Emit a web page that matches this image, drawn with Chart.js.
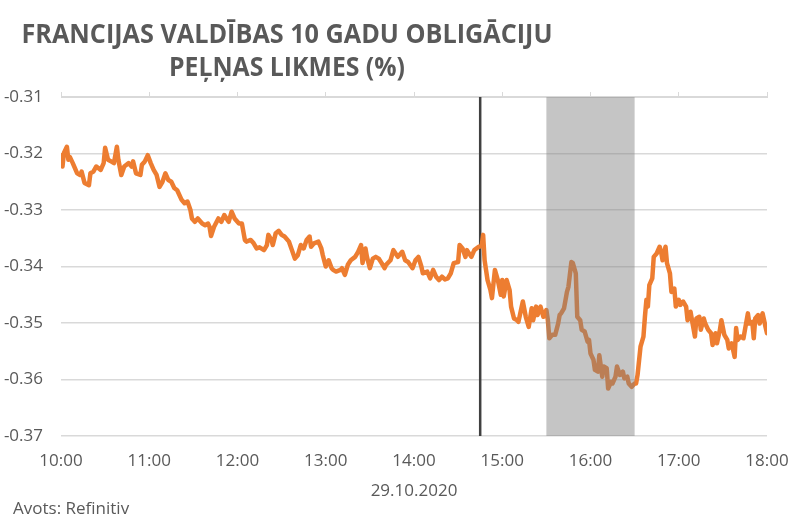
<!DOCTYPE html>
<html>
<head>
<meta charset="utf-8">
<script src="https://cdn.jsdelivr.net/npm/chart.js@4.4.1/dist/chart.umd.min.js"></script>
<style>
  html, body { margin: 0; padding: 0; background: #ffffff; }
  #wrap { width: 800px; height: 520px; position: relative; }
</style>
</head>
<body>
<div id="wrap"><canvas id="c" width="800" height="520"></canvas></div>
<script>
// ---- Data (minutes after 10:00, yield %) ----
const titleLines = ['FRANCIJAS VALDĪBAS 10 GADU OBLIGĀCIJU', 'PEĻŅAS LIKMES (%)'];
const dateLabel = '29.10.2020';
const sourceLabel = 'Avots: Refinitiv';
const tickLabels = ['10:00','11:00','12:00','13:00','14:00','15:00','16:00','17:00','18:00'];
const eventMinute = 285;      // 14:45 vertical marker
const bandStart = 330;        // 15:30
const bandEnd = 390;          // 16:30

const minutes = [
  0,1,2,4,5,6,8,11,13,14,16,19,20,22,24,27,29,30,32,34,36,38,39,41,43,46,48,49,51,54,55,57,59,
  61,63,65,67,69,71,73,75,77,79,82,84,86,88,89,91,93,96,98,100,101,102,104,107,109,111,114,116,
  118,121,123,125,126,129,131,133,135,138,140,141,143,144,146,148,150,152,155,157,159,161,163,165,
  167,169,170,172,175,177,178,180,182,184,185,187,190,191,193,195,197,200,202,204,205,207,208,210,
  212,214,216,218,220,221,224,226,229,232,234,236,239,241,243,245,246,249,251,253,255,257,259,261,
  263,265,267,270,271,273,275,276,279,281,284,286,287,288,290,292,293,295,297,299,300,301,303,305,
  306,308,310,311,313,314,316,318,320,321,323,324,326,328,330,331,332,334,336,338,339,340,342,344,
  345,347,348,350,351,353,354,356,358,359,360,362,363,365,366,368,369,371,372,374,375,377,378,380,
  382,383,385,386,388,390,391,392,394,395,396,397,398,399,400,402,403,405,407,408,409,411,412,414,
  415,417,418,420,421,423,425,426,428,429,431,432,434,435,437,438,440,442,443,445,446,448,449,451,
  453,454,456,458,459,460,462,464,465,467,468,470,471,472,474,475,477,479,480
];
const yieldValues = [
  -0.3203,-0.3223,-0.3199,-0.3188,-0.3211,-0.3206,-0.3217,-0.3235,-0.3238,-0.3232,-0.3252,-0.3256,-0.3235,-0.3232,-0.3223,-0.3229,-0.3217,-0.3190,-0.3211,-0.3214,-0.3217,-0.3188,-0.3211,-0.3238,-0.3223,-0.3217,-0.3223,-0.3214,-0.3235,-0.3238,-0.3220,-0.3214,-0.3203,
  -0.3217,-0.3229,-0.3238,-0.3259,-0.3250,-0.3235,-0.3247,-0.3250,-0.3261,-0.3265,-0.3282,-0.3288,-0.3285,-0.3300,-0.3315,-0.3321,-0.3315,-0.3324,-0.3327,-0.3324,-0.3330,-0.3346,-0.3330,-0.3315,-0.3321,-0.3309,-0.3321,-0.3303,
  -0.3315,-0.3324,-0.3324,-0.3353,-0.3356,-0.3353,-0.3359,-0.3368,-0.3366,-0.3371,-0.3362,-0.3344,-0.3353,-0.3362,-0.3341,-0.3337,-0.3344,-0.3347,-0.3356,-0.3371,-0.3386,-0.3380,-0.3362,-0.3368,
  -0.3353,-0.3347,-0.3365,-0.3359,-0.3356,-0.3368,-0.3380,-0.3400,-0.3389,-0.3403,-0.3406,-0.3409,-0.3406,-0.3403,-0.3415,-0.3397,-0.3389,-0.3383,-0.3374,-0.3362,-0.3394,-0.3368,-0.3383,-0.3403,
  -0.3386,-0.3383,-0.3386,-0.3394,-0.3403,-0.3397,-0.3389,-0.3371,-0.3383,-0.3374,-0.3389,-0.3392,-0.3403,-0.3389,-0.3383,-0.3400,-0.3412,-0.3409,-0.3421,-0.3406,-0.3418,-0.3424,-0.3418,-0.3423,
  -0.3421,-0.3412,-0.3394,-0.3392,-0.3362,-0.3368,-0.3383,-0.3371,-0.3383,-0.3371,-0.3365,-0.3364,-0.3344,-0.3389,-0.3424,-0.3442,-0.3456,-0.3406,-0.3424,-0.3450,-0.3424,-0.3453,-0.3424,-0.3442,
  -0.3471,-0.3492,-0.3495,-0.3498,-0.3474,-0.3462,-0.3489,-0.3507,-0.3474,-0.3495,-0.3471,-0.3486,-0.3471,-0.3489,-0.3477,-0.3495,-0.3527,-0.3521,-0.3521,-0.3501,-0.3486,-0.3483,-0.3474,-0.3445,
  -0.3436,-0.3392,-0.3394,-0.3412,-0.3489,-0.3495,-0.3512,-0.3515,-0.3533,-0.3530,-0.3554,-0.3565,-0.3583,-0.3586,-0.3557,-0.3595,-0.3577,-0.3580,-0.3616,-0.3604,-0.3607,-0.3595,-0.3577,-0.3592,
  -0.3586,-0.3598,-0.3595,-0.3607,-0.3613,-0.3607,-0.3607,-0.3592,-0.3542,-0.3533,-0.3524,-0.3489,-0.3459,-0.3471,-0.3433,-0.3421,-0.3383,-0.3377,-0.3365,-0.3374,-0.3389,-0.3365,-0.3394,-0.3412,
  -0.3445,-0.3439,-0.3471,-0.3459,-0.3468,-0.3462,-0.3471,-0.3495,-0.3480,-0.3495,-0.3524,-0.3492,-0.3489,-0.3512,-0.3492,-0.3501,-0.3512,-0.3518,-0.3539,-0.3518,-0.3536,-0.3512,-0.3495,-0.3521,
  -0.3530,-0.3545,-0.3536,-0.3560,-0.3509,-0.3530,-0.3524,-0.3527,-0.3512,-0.3483,-0.3501,-0.3498,-0.3527,-0.3492,-0.3486,-0.3501,-0.3483,-0.3507,-0.3518
];

// ---- Chart ----
const TEXT = '#595959';
const GRID = '#d9d9d9';
Chart.defaults.font.family = '"Open Sans", sans-serif';
Chart.defaults.color = TEXT;

const points = minutes.map((m, i) => ({ x: m, y: yieldValues[i] }));

const overlay = {
  id: 'overlay',
  beforeDatasetsDraw(chart) {
    const { ctx, chartArea, scales } = chart;
    const x = scales.x.getPixelForValue(eventMinute);
    ctx.save();
    ctx.strokeStyle = '#404040';
    ctx.lineWidth = 2.5;
    ctx.beginPath();
    ctx.moveTo(x, chartArea.top);
    ctx.lineTo(x, chartArea.bottom);
    ctx.stroke();
    ctx.restore();
  },
  afterDatasetsDraw(chart) {
    const { ctx, chartArea, scales } = chart;
    const x0 = scales.x.getPixelForValue(bandStart);
    const x1 = scales.x.getPixelForValue(bandEnd);
    ctx.save();
    ctx.fillStyle = 'rgba(128,128,128,0.46)';
    ctx.fillRect(x0, chartArea.top, x1 - x0, chartArea.bottom - chartArea.top);
    ctx.restore();
  },
  afterDraw(chart) {
    const { ctx } = chart;
    ctx.save();
    ctx.fillStyle = TEXT;
    ctx.textAlign = 'center';
    ctx.textBaseline = 'alphabetic';
    ctx.font = 'bold 26px "Open Sans", sans-serif';
    ctx.fillText(titleLines[0], 287, 43, 531);
    ctx.fillText(titleLines[1], 287, 76, 236);
    ctx.textAlign = 'left';
    ctx.font = '17px "Open Sans", sans-serif';
    ctx.fillText(sourceLabel, 13, 514);
    ctx.restore();
  }
};

new Chart(document.getElementById('c'), {
  type: 'line',
  data: {
    datasets: [{
      data: points,
      borderColor: '#ED7D31',
      borderWidth: 4.5,
      borderJoinStyle: 'round',
      borderCapStyle: 'round',
      pointRadius: 0,
      tension: 0,
      fill: false
    }]
  },
  options: {
    responsive: false,
    animation: false,
    layout: { padding: { top: 92, left: 0, right: 33, bottom: 0 } },
    plugins: {
      legend: { display: false },
      tooltip: { enabled: false }
    },
    scales: {
      x: {
        type: 'linear',
        position: 'bottom',
        min: 0, max: 480,
        afterFit(scale) { scale.height = 84; scale.paddingLeft = 0; scale.paddingRight = 0; },
        afterBuildTicks(scale) { scale.ticks = tickLabels.map((_, i) => ({ value: i * 60 })); },
        grid: { display: false, drawTicks: false },
        border: { display: false },
        ticks: {
          padding: 15,
          font: { size: 17 },
          color: TEXT,
          maxRotation: 0,
          autoSkip: false,
          callback: (v, i) => tickLabels[i]
        },
        title: {
          display: true,
          text: dateLabel,
          color: TEXT,
          font: { size: 17 },
          padding: { top: 0, bottom: 19 }
        }
      },
      x2: {
        type: 'linear',
        position: 'top',
        min: 0, max: 480,
        afterFit(scale) { scale.height = 5; scale.paddingLeft = 0; scale.paddingRight = 0; },
        afterBuildTicks(scale) { scale.ticks = tickLabels.map((_, i) => ({ value: i * 60 })); },
        grid: { drawOnChartArea: false, drawTicks: true, tickLength: 5, color: GRID, lineWidth: 1 },
        border: { display: true, color: GRID },
        ticks: { display: false }
      },
      y: {
        min: -0.37, max: -0.31,
        afterFit(scale) { scale.width = 61; },
        afterBuildTicks(scale) {
          const t = [];
          for (let k = 0; k <= 6; k++) t.push({ value: -0.37 + k * 0.01 });
          scale.ticks = t;
        },
        grid: { color: GRID, lineWidth: 1.5, drawTicks: false },
        border: { display: false },
        ticks: {
          padding: 18,
          font: { size: 17 },
          color: TEXT,
          callback: (v) => v.toFixed(2)
        }
      }
    }
  },
  plugins: [overlay]
});
</script>
</body>
</html>
